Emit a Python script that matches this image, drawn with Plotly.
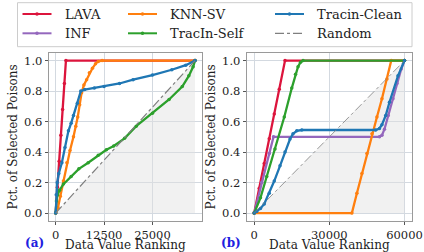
import plotly.graph_objects as go

# ---------------- data: panel (a) ----------------
a_xmax = 36000
a_lava_x = [0, 450, 900, 1350, 1800, 2250, 2650, 36000]
a_lava_y = [0, 0.17, 0.34, 0.51, 0.68, 0.85, 1.0, 1.0]
a_knn_x = [0, 600, 1200, 2000, 2900, 3700, 4600, 5200, 5700, 6200, 6700, 7300, 8000, 8700, 9500, 10300, 11000, 12000, 36000]
a_knn_y = [0, 0.035, 0.11, 0.21, 0.33, 0.41, 0.5, 0.57, 0.63, 0.71, 0.79, 0.84, 0.875, 0.92, 0.95, 0.98, 0.995, 1.0, 1.0]
a_clean_x = [0, 150, 400, 800, 1600, 2400, 3300, 4000, 4600, 5600, 6500, 7500, 10000, 12500, 16500, 20000, 25000, 30000, 33600, 36000]
a_clean_y = [0, 0.12, 0.2, 0.26, 0.33, 0.43, 0.54, 0.59, 0.64, 0.72, 0.8, 0.81, 0.82, 0.83, 0.85, 0.875, 0.905, 0.94, 0.97, 1.0]
a_self_x = [0, 200, 500, 1000, 2000, 4000, 6000, 8400, 11000, 13100, 15000, 17800, 20800, 25000, 29300, 32700, 34400, 35500, 36000]
a_self_y = [0, 0.08, 0.12, 0.15, 0.19, 0.24, 0.29, 0.33, 0.38, 0.415, 0.44, 0.49, 0.57, 0.655, 0.745, 0.83, 0.9, 0.96, 1.0]
a_rand_x = [0, 36000]
a_rand_y = [0, 1.0]

# ---------------- data: panel (b) ----------------
b_xmax = 60000
b_lava_x = [0, 2000, 4000, 6000, 8000, 10000, 12300, 60000]
b_lava_y = [0, 0.163, 0.325, 0.488, 0.65, 0.813, 1.0, 1.0]
b_inf_x = [0, 3000, 6000, 7700, 50000, 51000, 52000, 53500, 55400, 57000, 58700, 60000]
b_inf_y = [0, 0.2, 0.39, 0.5, 0.5, 0.51, 0.55, 0.64, 0.75, 0.85, 0.945, 1.0]
b_knn_x = [0, 39000, 41000, 43000, 45000, 47000, 49000, 51000, 53000, 54700, 60000]
b_knn_y = [0, 0, 0.13, 0.26, 0.39, 0.52, 0.63, 0.75, 0.88, 1.0, 1.0]
b_self_x = [0, 2500, 5000, 8300, 12000, 15000, 16500, 17500, 18500, 19500, 60000]
b_self_y = [0, 0.1, 0.24, 0.42, 0.63, 0.82, 0.91, 0.96, 0.99, 1.0, 1.0]
b_clean_x = [0, 1000, 2500, 4000, 6000, 8000, 10300, 12300, 14300, 15500, 17000, 19000, 48500, 50000, 51000, 52500, 54000, 57400, 60000]
b_clean_y = [0, 0.01, 0.03, 0.06, 0.13, 0.21, 0.31, 0.4, 0.486, 0.52, 0.54, 0.545, 0.545, 0.555, 0.58, 0.64, 0.727, 0.9, 1.0]
b_rand_x = [0, 60000]
b_rand_y = [0, 1.0]

x_ticks_a = [0, 12500, 25000]
x_ticks_b = [0, 30000, 60000]
y_ticks = [0.0, 0.2, 0.4, 0.6, 0.8, 1.0]

legend_names = ["LAVA", "KNN-SV", "Tracin-Clean", "INF", "TracIn-Self", "Random"]

colors = {
    "LAVA": "#dc143c",
    "INF": "#9467bd",
    "KNN-SV": "#ff7f0e",
    "TracIn-Self": "#2ca02c",
    "Tracin-Clean": "#1f77b4",
    "Random": "#7f7f7f",
}
FONT = "DejaVu Serif, Liberation Serif, Noto Serif, serif"
W, H = 424, 252

fig = go.Figure()


def shade(xmax, xa, ya):
    fig.add_trace(go.Scatter(x=[0, xmax, xmax, 0], y=[0, 0, 1, 0], fill="toself",
                             fillcolor="rgba(225,225,225,0.45)", line=dict(width=0),
                             mode="lines", showlegend=False, hoverinfo="skip",
                             xaxis=xa, yaxis=ya))


def curve(name, xs, ys, xa, ya):
    fig.add_trace(go.Scatter(x=xs, y=ys, name=name, mode="lines+markers",
                             line=dict(color=colors[name], width=2.3),
                             marker=dict(size=3.5, color=colors[name]),
                             showlegend=False, xaxis=xa, yaxis=ya))


def rand(xs, ys, xa, ya, width):
    fig.add_trace(go.Scatter(x=xs, y=ys, name="Random", mode="lines",
                             line=dict(color=colors["Random"], width=width, dash="dashdot"),
                             showlegend=False, xaxis=xa, yaxis=ya))


# panel (a)
shade(a_xmax, "x", "y")
curve("LAVA", a_lava_x, a_lava_y, "x", "y")
curve("KNN-SV", a_knn_x, a_knn_y, "x", "y")
curve("TracIn-Self", a_self_x, a_self_y, "x", "y")
curve("Tracin-Clean", a_clean_x, a_clean_y, "x", "y")
rand(a_rand_x, a_rand_y, "x", "y", 1.2)

# panel (b)
shade(b_xmax, "x2", "y2")
curve("LAVA", b_lava_x, b_lava_y, "x2", "y2")
curve("INF", b_inf_x, b_inf_y, "x2", "y2")
curve("KNN-SV", b_knn_x, b_knn_y, "x2", "y2")
curve("TracIn-Self", b_self_x, b_self_y, "x2", "y2")
curve("Tracin-Clean", b_clean_x, b_clean_y, "x2", "y2")
rand(b_rand_x, b_rand_y, "x2", "y2", 0.8)

axis_common = dict(showgrid=True, gridcolor="#d3d9e0", gridwidth=1, showline=True,
                   linecolor="#9a9a9a", linewidth=1, mirror=True, zeroline=False,
                   ticks="outside", ticklen=3, tickcolor="#555", automargin=False,
                   tickfont=dict(family=FONT, size=11.5, color="#222"))

fig.update_layout(
    width=W, height=H,
    margin=dict(l=0, r=0, t=0, b=0, autoexpand=False),
    paper_bgcolor="white", plot_bgcolor="white",
    font=dict(family=FONT, color="#222"),
    showlegend=False,
    xaxis=dict(domain=[48.7 / W, 202 / W], range=[-1800, 37800], tickvals=x_ticks_a,
               ticktext=[str(v) for v in x_ticks_a],
               title=dict(text="Data Value Ranking", font=dict(family=FONT, size=12), standoff=5),
               **axis_common),
    yaxis=dict(domain=[1 - 220.7 / H, 1 - 53 / H], range=[-0.05, 1.05], tickvals=y_ticks, tickformat=".1f",
               title=dict(text="Pct. of Selected Poisons", font=dict(family=FONT, size=12), standoff=3),
               **axis_common),
    xaxis2=dict(domain=[246.7 / W, 412 / W], range=[-3000, 63000], tickvals=x_ticks_b, anchor="y2",
                ticktext=[str(v) for v in x_ticks_b],
                title=dict(text="Data Value Ranking", font=dict(family=FONT, size=12), standoff=5),
                **axis_common),
    yaxis2=dict(domain=[1 - 220.7 / H, 1 - 53 / H], range=[-0.05, 1.05], tickvals=y_ticks, tickformat=".1f",
                anchor="x2",
                title=dict(text="Pct. of Selected Poisons", font=dict(family=FONT, size=12), standoff=3),
                **axis_common),
)

# ---- legend box (drawn manually to match the three-column layout) ----
fig.add_shape(type="rect", xref="paper", yref="paper",
              x0=17.5 / W, x1=412 / W, y0=1 - 46.7 / H, y1=1 - 2.7 / H,
              line=dict(color="#cccccc", width=1), fillcolor="white", layer="above")
col_line_x = [22.5, 128, 275]
row_y = [14, 33.3]
for i, name in enumerate(legend_names):
    r, c = divmod(i, 3)
    x0 = col_line_x[c]
    yy = 1 - row_y[r] / H
    dash = "dashdot" if name == "Random" else "solid"
    lw = 1.2 if name == "Random" else 2
    fig.add_shape(type="line", xref="paper", yref="paper", x0=x0 / W, x1=(x0 + 29) / W, y0=yy, y1=yy,
                  line=dict(color=colors[name], width=lw, dash=dash), layer="above")
    if name != "Random":
        cx = x0 + 14.5
        fig.add_shape(type="circle", xref="paper", yref="paper",
                      x0=(cx - 1.8) / W, x1=(cx + 1.8) / W, y0=yy - 1.8 / H, y1=yy + 1.8 / H,
                      line=dict(width=0), fillcolor=colors[name], layer="above")
    fig.add_annotation(text=name, x=(x0 + 40) / W, y=yy, xref="paper", yref="paper",
                       xanchor="left", yanchor="middle", showarrow=False,
                       font=dict(family=FONT, size=13, color="#222"))

fig.add_annotation(text="<b>(a)</b>", x=34.5 / W, y=1 - 243 / H, xref="paper", yref="paper",
                   xanchor="center", yanchor="middle",
                   showarrow=False, font=dict(family=FONT, size=12, color="#2020e0"))
fig.add_annotation(text="<b>(b)</b>", x=231 / W, y=1 - 243 / H, xref="paper", yref="paper",
                   xanchor="center", yanchor="middle",
                   showarrow=False, font=dict(family=FONT, size=12, color="#2020e0"))

fig.write_html("out.html", config={"displayModeBar": False},
               post_script="document.body.style.margin='0';")
